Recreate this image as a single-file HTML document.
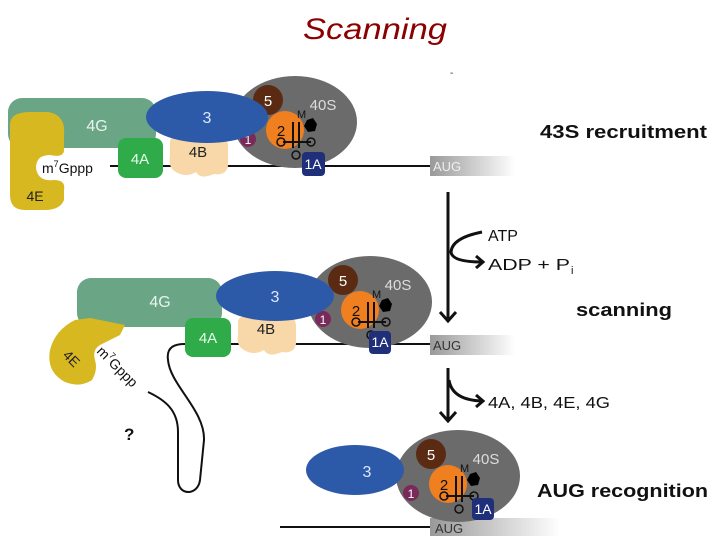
<!DOCTYPE html>
<html><head><style>
html,body{margin:0;padding:0;background:#fff;}
svg{display:block;font-family:"Liberation Sans",sans-serif;}
</style></head><body>
<svg width="720" height="540" viewBox="0 0 720 540">
<defs>
<linearGradient id="aug" x1="0" x2="1"><stop offset="0" stop-color="#999"/><stop offset="1" stop-color="#fff"/></linearGradient>
<g id="ribo">
 <ellipse cx="0" cy="0" rx="62" ry="46" fill="#6b6b6b"/>
 <circle cx="-27" cy="-22" r="15" fill="#5a2a12"/>
 <text x="-27" y="-16" fill="#fff" font-size="15" text-anchor="middle">5</text>
 <text x="28" y="-12" fill="#ddd" font-size="15" text-anchor="middle">40S</text>
 <circle cx="-10" cy="8" r="19" fill="#f07f20"/>
 <text x="-14" y="14" fill="#111" font-size="15" text-anchor="middle">2</text>
 <text x="2" y="-4" fill="#111" font-size="11">M</text>
 <path d="M-2 0 V26 M4 0 V26 M-12 20 H16" stroke="#111" stroke-width="2" fill="none"/>
 <circle cx="-14" cy="20" r="4" fill="none" stroke="#111" stroke-width="1.5"/>
 <circle cx="16" cy="20" r="4" fill="none" stroke="#111" stroke-width="1.5"/>
 <circle cx="1" cy="33" r="4" fill="none" stroke="#111" stroke-width="1.5"/>
 <polygon points="12,-2 18,-4 22,2 20,9 13,10 9,4" fill="#000"/>
 <circle cx="-47" cy="17" r="8" fill="#7a2a5a"/>
 <text x="-47" y="22" fill="#fff" font-size="12" text-anchor="middle">1</text>
</g>
</defs>

<text x="303" y="39" fill="#8b0000" font-size="30" font-style="italic" textLength="144" lengthAdjust="spacingAndGlyphs">Scanning</text>
<text x="450" y="76" font-size="10" fill="#333">-</text>

<!-- TOP -->
<line x1="110" y1="166" x2="432" y2="166" stroke="#111" stroke-width="2"/>
<rect x="430" y="156" width="85" height="20" fill="url(#aug)"/>
<text x="433" y="171" fill="#eee" font-size="13">AUG</text>
<use href="#ribo" x="295" y="122"/>
<rect x="8" y="98" width="148" height="50" rx="14" fill="#6aa585"/>
<text x="97" y="131" fill="#e8f4ee" font-size="16" text-anchor="middle">4G</text>
<path d="M10 125 Q10 112 30 112 L48 112 Q66 115 64 135 L64 150 Q64 158 50 155 Q36 155 36 168 Q38 182 54 180 Q66 180 64 190 L64 200 Q60 210 45 210 L25 210 Q10 210 10 195 Z" fill="#d8b820"/>
<text x="35" y="201" font-size="14" fill="#222" text-anchor="middle">4E</text>
<text x="42" y="173" font-size="14" fill="#111">m<tspan font-size="9" dy="-6">7</tspan><tspan dy="6">Gppp</tspan></text>
<rect x="118" y="138" width="45" height="40" rx="8" fill="#2fab4a"/>
<text x="140" y="164" fill="#e8ffe8" font-size="15" text-anchor="middle">4A</text>
<path d="M170 142 Q170 136 180 136 L218 136 Q228 136 228 146 L228 166 Q226 176 214 174 Q200 180 196 172 Q186 178 176 172 Q168 168 170 156 Z" fill="#f8d8a8"/>
<text x="198" y="157" fill="#222" font-size="15" text-anchor="middle">4B</text>
<ellipse cx="207" cy="117" rx="61" ry="26" fill="#2d5aa8"/>
<text x="207" y="123" fill="#dde8ff" font-size="16" text-anchor="middle">3</text>
<rect x="302" y="152" width="23" height="24" rx="4" fill="#1f2f7a"/>
<text x="313" y="169" fill="#fff" font-size="14" text-anchor="middle">1A</text>
<text x="540" y="138" font-size="18" font-weight="bold" fill="#111" textLength="167" lengthAdjust="spacingAndGlyphs">43S recruitment</text>

<!-- arrows -->
<line x1="448" y1="192" x2="448" y2="320" stroke="#111" stroke-width="3"/>
<polyline points="440,312 448,321 456,312" fill="none" stroke="#111" stroke-width="3"/>
<path d="M482 232 Q452 238 451 252 Q452 262 482 262" fill="none" stroke="#111" stroke-width="3"/>
<polyline points="476,256 483,262 476,268" fill="none" stroke="#111" stroke-width="3"/>
<text x="488" y="241" font-size="16" fill="#111">ATP</text>
<text x="488" y="270" font-size="16" fill="#111" textLength="82" lengthAdjust="spacingAndGlyphs">ADP + P</text>
<text x="571" y="274" font-size="11" fill="#111">i</text>
<text x="576" y="316" font-size="18" font-weight="bold" fill="#111" textLength="96" lengthAdjust="spacingAndGlyphs">scanning</text>
<line x1="448" y1="368" x2="448" y2="420" stroke="#111" stroke-width="3"/>
<polyline points="440,412 448,421 456,412" fill="none" stroke="#111" stroke-width="3"/>
<path d="M449 380 Q452 400 482 401" fill="none" stroke="#111" stroke-width="3"/>
<polyline points="476,395 483,401 476,407" fill="none" stroke="#111" stroke-width="3"/>
<text x="488" y="408" font-size="16" fill="#111" textLength="122" lengthAdjust="spacingAndGlyphs">4A, 4B, 4E, 4G</text>

<!-- MIDDLE -->
<path d="M148 392 C165 400 178 410 178 432 L178 480 C178 496 198 496 200 480 L204 440 C205 410 170 385 168 360 C166 346 176 344 185 344 L432 344" fill="none" stroke="#111" stroke-width="2"/>
<rect x="430" y="335" width="85" height="20" fill="url(#aug)"/>
<text x="433" y="350" fill="#333" font-size="13">AUG</text>
<use href="#ribo" x="370" y="302"/>
<rect x="77" y="278" width="145" height="49" rx="14" fill="#6aa585"/>
<text x="160" y="307" fill="#e8f4ee" font-size="16" text-anchor="middle">4G</text>
<path d="M75 320 Q55 330 50 350 Q46 372 65 382 Q80 388 92 380 Q98 370 95 360 Q92 350 100 345 Q110 340 120 335 L125 325 L90 318 Z" fill="#d8b820"/>
<text x="68" y="362" font-size="14" fill="#222" transform="rotate(45 68 362)" text-anchor="middle">4E</text>
<text x="96" y="352" font-size="14" fill="#111" transform="rotate(45 96 352)">m<tspan font-size="9" dy="-6">7</tspan><tspan dy="6">Gppp</tspan></text>
<text x="124" y="440" font-size="17" font-weight="bold" fill="#111">?</text>
<rect x="185" y="318" width="46" height="39" rx="8" fill="#2fab4a"/>
<text x="208" y="343" fill="#e8ffe8" font-size="15" text-anchor="middle">4A</text>
<path d="M238 322 Q238 316 248 316 L286 316 Q296 316 296 326 L296 344 Q294 354 282 352 Q268 358 264 350 Q254 356 244 350 Q236 346 238 334 Z" fill="#f8d8a8"/>
<text x="266" y="334" fill="#222" font-size="15" text-anchor="middle">4B</text>
<ellipse cx="275" cy="296" rx="59" ry="25" fill="#2d5aa8"/>
<text x="275" y="302" fill="#dde8ff" font-size="16" text-anchor="middle">3</text>
<rect x="369" y="331" width="22" height="23" rx="4" fill="#1f2f7a"/>
<text x="380" y="347" fill="#fff" font-size="14" text-anchor="middle">1A</text>

<!-- BOTTOM -->
<line x1="280" y1="527" x2="432" y2="527" stroke="#111" stroke-width="2"/>
<rect x="430" y="518" width="130" height="18" fill="url(#aug)"/>
<text x="435" y="533" fill="#333" font-size="13">AUG</text>
<use href="#ribo" x="458" y="476"/>
<ellipse cx="355" cy="470" rx="49" ry="25" fill="#2d5aa8"/>
<text x="367" y="477" fill="#dde8ff" font-size="16" text-anchor="middle">3</text>
<rect x="472" y="498" width="22" height="22" rx="4" fill="#1f2f7a"/>
<text x="483" y="514" fill="#fff" font-size="14" text-anchor="middle">1A</text>
<text x="537" y="497" font-size="18" font-weight="bold" fill="#111" textLength="171" lengthAdjust="spacingAndGlyphs">AUG recognition</text>
</svg>
</body></html>
